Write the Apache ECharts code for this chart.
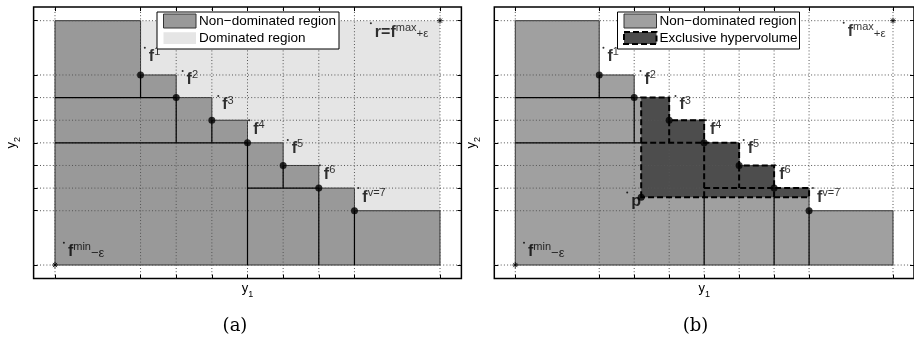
<!DOCTYPE html>
<html><head><meta charset="utf-8">
<script src="https://cdn.jsdelivr.net/npm/echarts@6/dist/echarts.min.js"></script>
<style>html,body{margin:0;padding:0;background:#fff}#c{width:914px;height:342px}</style>
</head><body><div id="c"></div>
<script>
// ---- data ----
const frontY1 = [1, 2, 3, 4, 5, 6, 7];
const frontY2 = [7, 6, 5, 4, 3, 2, 1];
const frontNames = ['1', '2', '3', '4', '5', '6', 'v=7'];
const fMin = [-1.4, -1.4];
const rMax = [9.4, 9.4];
const pPoint = [2.2, 1.6];
const tickValues = [-1.4, 1, 2, 3, 4, 5, 6, 7, 9.4];
const axisRange = [-2, 10];
// small anchor dots placed next to each text label
const frontDots = [[1.12, 8.2], [2.18, 7.18], [3.18, 6.07], [4.05, 5.0], [5.13, 4.13], [6.03, 3.01], [7.11, 2.0]];
const minDot = [-1.15, -0.41];
const maxDotA = [7.46, 9.29];
const maxDotB = [7.99, 9.31];
const pDot = [1.8, 1.81];

// ---- derived geometry ----
const F = frontY1.map((x, i) => [x, frontY2[i]]);
function nonDomPolygon() {
  const pts = [fMin, [fMin[0], rMax[1]]];
  for (let i = 0; i < F.length; i++) {
    pts.push([F[i][0], i === 0 ? rMax[1] : F[i - 1][1]]);
    pts.push(F[i]);
  }
  pts.push([rMax[0], F[F.length - 1][1]]);
  pts.push([rMax[0], fMin[1]]);
  return pts;
}
function exclusivePolygon() {
  let i = 0;
  while (i + 1 < F.length && F[i + 1][0] <= pPoint[0]) i++;
  const pts = [pPoint, [pPoint[0], F[i][1]]];
  let j = i + 1;
  while (j < F.length && F[j][1] >= pPoint[1]) {
    pts.push([F[j][0], F[j - 1][1]]);
    pts.push(F[j]);
    j++;
  }
  pts.push([F[j][0], F[j - 1][1]]);
  pts.push([F[j][0], pPoint[1]]);
  return pts;
}
const segs = [
  [fMin[0], F[1][1], F[1][0], F[1][1]],
  [F[0][0], F[0][1], F[0][0], F[1][1]],
  [F[1][0], F[1][1], F[1][0], F[3][1]],
  [F[2][0], F[2][1], F[2][0], F[3][1]],
  [fMin[0], F[3][1], F[3][0], F[3][1]],
  [F[3][0], F[3][1], F[3][0], fMin[1]],
  [F[3][0], F[5][1], F[5][0], F[5][1]],
  [F[4][0], F[4][1], F[4][0], F[5][1]],
  [F[5][0], F[5][1], F[5][0], fMin[1]],
  [F[6][0], F[6][1], F[6][0], fMin[1]]
];
function splitSegs() {
  const solid = [], dashed = [];
  const px = pPoint[0], py = pPoint[1];
  segs.forEach(s => {
    if (s[1] === s[3]) {
      const y = s[1], a = Math.min(s[0], s[2]), b = Math.max(s[0], s[2]);
      if (y < py || b <= px) solid.push(s);
      else if (a >= px) dashed.push(s);
      else { solid.push([a, y, px, y]); dashed.push([px, y, b, y]); }
    } else {
      const x = s[0], a = Math.min(s[1], s[3]), b = Math.max(s[1], s[3]);
      if (x < px || b <= py) solid.push(s);
      else if (a >= py) dashed.push(s);
      else { solid.push([x, a, x, py]); dashed.push([x, py, x, b]); }
    }
  });
  return { solid, dashed };
}

// ---- styles ----
const FONT = 'Liberation Sans';
const rich = {
  f: { fontFamily: FONT, fontSize: 16, fontWeight: 'bold', lineHeight: 16, verticalAlign: 'bottom', color: '#000' },
  s: { fontFamily: FONT, fontSize: 11, lineHeight: 11, padding: [0, 0, 7, 0], verticalAlign: 'bottom', color: '#000' },
  n: { fontFamily: FONT, fontSize: 13, lineHeight: 13, verticalAlign: 'bottom', color: '#000' },
  e: { fontFamily: FONT, fontSize: 11.5, lineHeight: 11.5, verticalAlign: 'bottom', color: '#000' }
};
const axisRich = {
  y: { fontFamily: FONT, fontSize: 13, lineHeight: 13, padding: [0, 0, 4, 0], verticalAlign: 'bottom', color: '#000' },
  s: { fontFamily: FONT, fontSize: 9, lineHeight: 9, verticalAlign: 'bottom', color: '#000' }
};
const asterisk = 'path://M5,0L5,10M0,5L10,5M1.5,1.5L8.5,8.5M8.5,1.5L1.5,8.5';

const GRID_W = 427.8, GRID_H = 271.5, GRID_T = 7.1;
const grids = [
  { left: 33.6, top: GRID_T, width: GRID_W, height: GRID_H, show: true, borderColor: '#000', borderWidth: 1.5, backgroundColor: 'transparent' },
  { left: 494.3, top: GRID_T, width: GRID_W, height: GRID_H, show: true, borderColor: '#000', borderWidth: 1.5, backgroundColor: 'transparent' }
];
function xAx(g, pos, named) {
  return {
    gridIndex: g, type: 'value', min: axisRange[0], max: axisRange[1], position: pos, z: 8,
    axisLine: { show: false, onZero: false }, axisLabel: { show: false }, splitLine: { show: false },
    axisTick: { show: true, inside: true, length: 4, customValues: tickValues, lineStyle: { color: '#000', width: 1 } },
    name: named ? '{y|y}{s|1}' : '', nameLocation: 'middle', nameGap: 7,
    nameTextStyle: { rich: axisRich }
  };
}
function yAx(g, pos, named) {
  return {
    gridIndex: g, type: 'value', min: axisRange[0], max: axisRange[1], position: pos, z: 8,
    axisLine: { show: false, onZero: false }, axisLabel: { show: false }, splitLine: { show: false },
    axisTick: { show: true, inside: true, length: 4, customValues: tickValues, lineStyle: { color: '#000', width: 1 } },
    name: named ? '{y|y}{s|2}' : '', nameLocation: 'middle', nameGap: 12, nameRotate: 90,
    nameTextStyle: { rich: axisRich }
  };
}

function polySeries(g, pts, fill, stroke, lw, dash, z) {
  return {
    type: 'custom', xAxisIndex: g * 2, yAxisIndex: g * 2, z: z, silent: true,
    data: [[0, 0]],
    renderItem: (params, api) => ({
      type: 'polygon',
      shape: { points: pts.map(p => api.coord(p)) },
      style: { fill: fill, stroke: stroke, lineWidth: lw, lineDash: dash || null }
    })
  };
}
function segSeries(g, list, color, lw, dash, z) {
  return {
    type: 'custom', xAxisIndex: g * 2, yAxisIndex: g * 2, z: z, silent: true,
    data: list,
    renderItem: (params, api) => {
      const a = api.coord([api.value(0), api.value(1)]);
      const b = api.coord([api.value(2), api.value(3)]);
      return { type: 'line', shape: { x1: a[0], y1: a[1], x2: b[0], y2: b[1] },
        style: { stroke: color, lineWidth: lw, lineDash: dash || null, fill: null } };
    }
  };
}
function gridSeries(g) {
  return {
    type: 'custom', xAxisIndex: g * 2, yAxisIndex: g * 2, z: 4, silent: true,
    data: tickValues.map(v => [v, v]),
    renderItem: (params, api) => {
      const v = api.value(0);
      const a = api.coord([v, axisRange[0]]), b = api.coord([v, axisRange[1]]);
      const c = api.coord([axisRange[0], v]), d = api.coord([axisRange[1], v]);
      const st = { stroke: '#555', lineWidth: 1, lineDash: [1, 2.2], fill: null };
      return { type: 'group', children: [
        { type: 'line', shape: { x1: a[0], y1: a[1], x2: b[0], y2: b[1] }, style: st },
        { type: 'line', shape: { x1: c[0], y1: c[1], x2: d[0], y2: d[1] }, style: st }
      ] };
    }
  };
}
function labelSeries(g, items) {
  return {
    type: 'scatter', xAxisIndex: g * 2, yAxisIndex: g * 2, z: 9, silent: true,
    symbolSize: 2, itemStyle: { color: '#000' },
    label: { show: true, position: [5, 2], align: 'left', verticalAlign: 'top', rich: rich },
    data: items.map(it => ({ value: it[0], label: { formatter: it[1] } }))
  };
}

const ndPoly = nonDomPolygon();
const exPoly = exclusivePolygon();
const split = splitSegs();

const frontLabels = F.map((p, i) => [frontDots[i], '{f|f}{s|' + frontNames[i] + '}']);
const labelsA = frontLabels.concat([
  [minDot, '{f|f}{s|min}{n|−ε}'],
  [maxDotA, '{f|r=f}{s|max}{e|+ε}']
]);
const labelsB = frontLabels.concat([
  [minDot, '{f|f}{s|min}{n|−ε}'],
  [maxDotB, '{f|f}{s|max}{e|+ε}'],
  [pDot, '{f|p}']
]);

const series = [
  // panel (a)
  polySeries(0, [fMin, [fMin[0], rMax[1]], rMax, [rMax[0], fMin[1]]], '#e5e5e5', null, 0, null, 1),
  polySeries(0, ndPoly, '#999999', '#333', 1, null, 2),
  gridSeries(0),
  segSeries(0, segs, '#000', 1.2, null, 5),
  { type: 'scatter', xAxisIndex: 0, yAxisIndex: 0, z: 7, silent: true, symbolSize: 7, itemStyle: { color: '#000' }, data: F },
  { type: 'scatter', xAxisIndex: 0, yAxisIndex: 0, z: 7, silent: true, symbol: asterisk, symbolSize: 6,
    itemStyle: { color: 'transparent', borderColor: '#000', borderWidth: 1 }, data: [fMin, rMax] },
  labelSeries(0, labelsA),
  // panel (b)
  polySeries(1, ndPoly, '#a0a0a0', '#333', 1, null, 2),
  polySeries(1, exPoly, '#4d4d4d', null, 0, null, 3),
  gridSeries(1),
  segSeries(1, split.solid, '#000', 1.2, null, 5),
  segSeries(1, split.dashed, '#000', 2, [6, 3], 6),
  polySeries(1, exPoly, 'transparent', '#000', 2, [6, 3], 6),
  { type: 'scatter', xAxisIndex: 2, yAxisIndex: 2, z: 7, silent: true, symbolSize: 7, itemStyle: { color: '#000' }, data: F.concat([pPoint]) },
  { type: 'scatter', xAxisIndex: 2, yAxisIndex: 2, z: 7, silent: true, symbol: asterisk, symbolSize: 6,
    itemStyle: { color: 'transparent', borderColor: '#000', borderWidth: 1 }, data: [fMin, rMax] },
  labelSeries(1, labelsB)
];

function legendGraphics(x0, second) {
  const font = '13.5px "' + FONT + '"';
  const els = [
    { type: 'rect', shape: { x: x0, y: 12, width: 182, height: 37 }, style: { fill: '#fff', stroke: '#000', lineWidth: 1 }, z: 100 },
    { type: 'rect', shape: { x: x0 + 6.5, y: 14, width: 32.5, height: 14 }, style: { fill: second ? '#a0a0a0' : '#999999', stroke: '#333', lineWidth: 1 }, z: 101 },
    { type: 'text', x: x0 + 42, y: 21.5, style: { text: 'Non−dominated region', font: font, fill: '#000', align: 'left', verticalAlign: 'middle', textAlign: 'left', textVerticalAlign: 'middle' }, z: 101 }
  ];
  if (second) {
    els.push({ type: 'rect', shape: { x: x0 + 6.5, y: 32, width: 32.5, height: 12 }, style: { fill: '#4d4d4d', stroke: '#000', lineWidth: 2, lineDash: [6, 3] }, z: 101 });
    els.push({ type: 'text', x: x0 + 42, y: 38.5, style: { text: 'Exclusive hypervolume', font: font, fill: '#000', align: 'left', verticalAlign: 'middle', textAlign: 'left', textVerticalAlign: 'middle' }, z: 101 });
  } else {
    els.push({ type: 'rect', shape: { x: x0 + 6.5, y: 32.3, width: 32.5, height: 11.7 }, style: { fill: '#e5e5e5' }, z: 101 });
    els.push({ type: 'text', x: x0 + 42, y: 38.5, style: { text: 'Dominated region', font: font, fill: '#000', align: 'left', verticalAlign: 'middle', textAlign: 'left', textVerticalAlign: 'middle' }, z: 101 });
  }
  return els;
}
const captionFont = '18px "DejaVu Serif"';
const graphics = legendGraphics(157, false).concat(legendGraphics(617.5, true)).concat([
  { type: 'text', x: 235, y: 326, style: { text: '(a)', font: captionFont, fill: '#000', align: 'center', verticalAlign: 'middle', textAlign: 'center', textVerticalAlign: 'middle' } },
  { type: 'text', x: 695.5, y: 326, style: { text: '(b)', font: captionFont, fill: '#000', align: 'center', verticalAlign: 'middle', textAlign: 'center', textVerticalAlign: 'middle' } }
]);

const chart = echarts.init(document.getElementById('c'), null, { renderer: 'canvas' });
chart.setOption({
  animation: false,
  backgroundColor: '#fff',
  grid: grids,
  xAxis: [xAx(0, 'bottom', true), xAx(0, 'top', false), xAx(1, 'bottom', true), xAx(1, 'top', false)],
  yAxis: [yAx(0, 'left', true), yAx(0, 'right', false), yAx(1, 'left', true), yAx(1, 'right', false)],
  series: series,
  graphic: graphics
});
</script></body></html>
